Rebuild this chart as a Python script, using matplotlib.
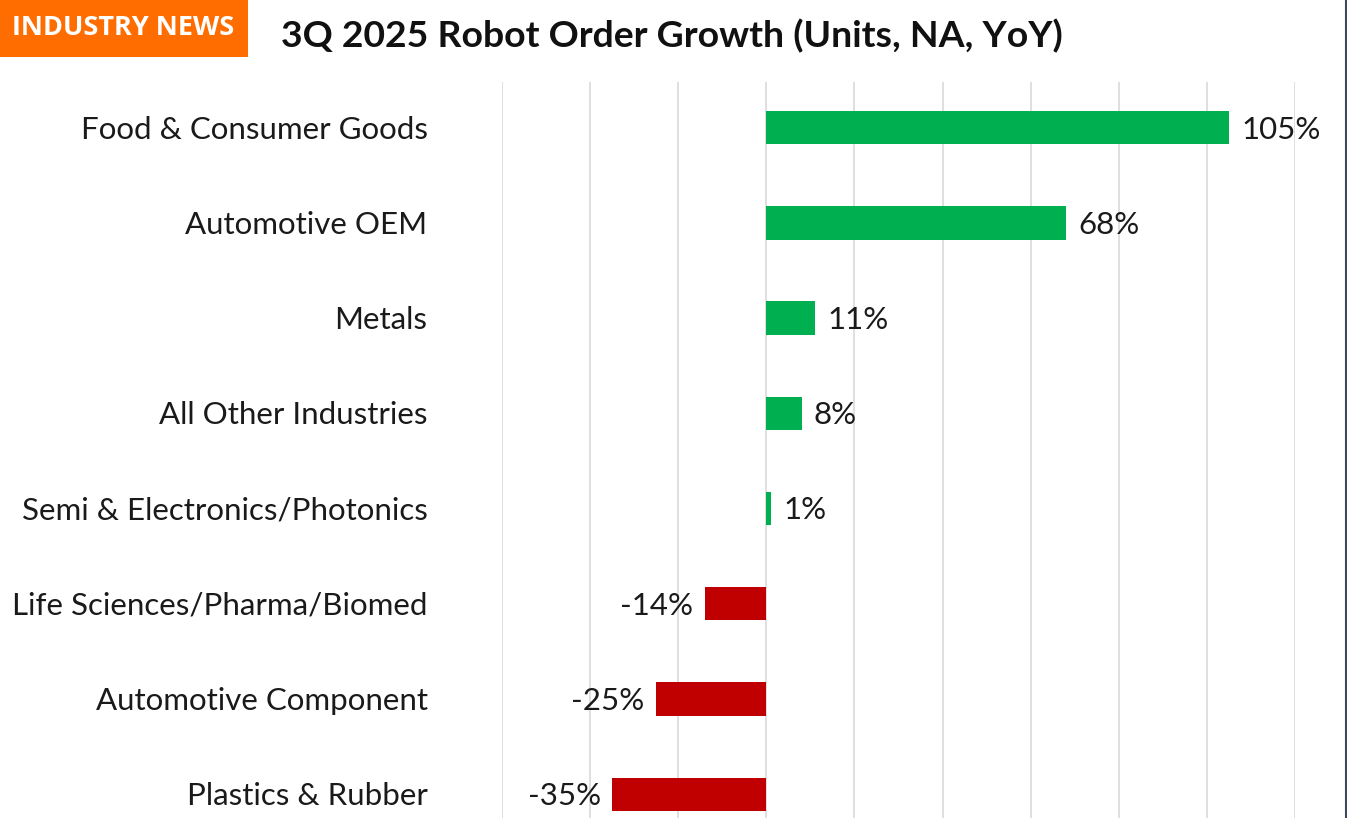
import matplotlib
matplotlib.use("Agg")
import matplotlib.pyplot as plt
from matplotlib.patches import Rectangle
from matplotlib.lines import Line2D

categories = ["Food & Consumer Goods", "Automotive OEM", "Metals", "All Other Industries",
              "Semi & Electronics/Photonics", "Life Sciences/Pharma/Biomed",
              "Automotive Component", "Plastics & Rubber"]
values = [105, 68, 11, 8, 1, -14, -25, -35]
xticks = [-60, -40, -20, 0, 20, 40, 60, 80, 100, 120]
title = "3Q 2025 Robot Order Growth (Units, NA, YoY)"
badge = "INDUSTRY NEWS"

GREEN = "#00B050"
RED = "#C00000"
ORANGE = "#FF6D00"
FONT = ["Lato", "DejaVu Sans"]

W, H = 1347, 818
fig = plt.figure(figsize=(W / 100, H / 100), dpi=100)
fig.patch.set_facecolor("white")

ax_left, ax_right = 502 / W, 1295 / W
ax_top = 1 - 82 / H
ax = fig.add_axes([ax_left, 0, ax_right - ax_left, ax_top])

ypos = list(range(len(categories)))
colors = [GREEN if v >= 0 else RED for v in values]
ax.barh(ypos, values, height=0.35, color=colors, zorder=3)

ax.set_xlim(xticks[0], xticks[-1])
ax.set_ylim(7.25, -0.48)
ax.set_xticks(xticks)
ax.xaxis.grid(True, color="#D9D9D9", linewidth=1.2, zorder=0)
ax.tick_params(axis="x", length=0, labelbottom=False)
ax.tick_params(axis="y", length=0, pad=0)
for s in ax.spines.values():
    s.set_visible(False)

ax.set_yticks(ypos)
ax.set_yticklabels([])
for y, c in zip(ypos, categories):
    ax.text(-76.9, y + 0.02, c, ha="right", va="center", fontsize=22.5, family=FONT, color="#1a1a1a")

for y, v in zip(ypos, values):
    if v >= 0:
        ax.text(v + 2.8, y + 0.02, f"{v}%", ha="left", va="center", fontsize=22.5, family=FONT, color="#1a1a1a")
    else:
        ax.text(v - 2.6, y + 0.02, f"{v}%", ha="right", va="center", fontsize=22.5, family=FONT, color="#1a1a1a")

# Badge
fig.patches.append(Rectangle((0, 1 - 57 / H), 248 / W, 57 / H, transform=fig.transFigure,
                             facecolor=ORANGE, edgecolor="none"))
fig.text(123 / W, 1 - 28 / H, badge, ha="center", va="center", fontsize=19.5, fontweight="bold",
         color="white", family=["Open Sans", "DejaVu Sans"])

# Title
fig.text(671.5 / W, 1 - 36 / H, title, ha="center", va="center", fontsize=26.9, fontweight="bold",
         color="#111111", family=FONT)

# right edge line
fig.lines.append(Line2D([1345.5 / W, 1345.5 / W], [0, 1], transform=fig.transFigure,
                        color="#3a4a5a", linewidth=1.5))

fig.savefig("out.png", dpi=100)
